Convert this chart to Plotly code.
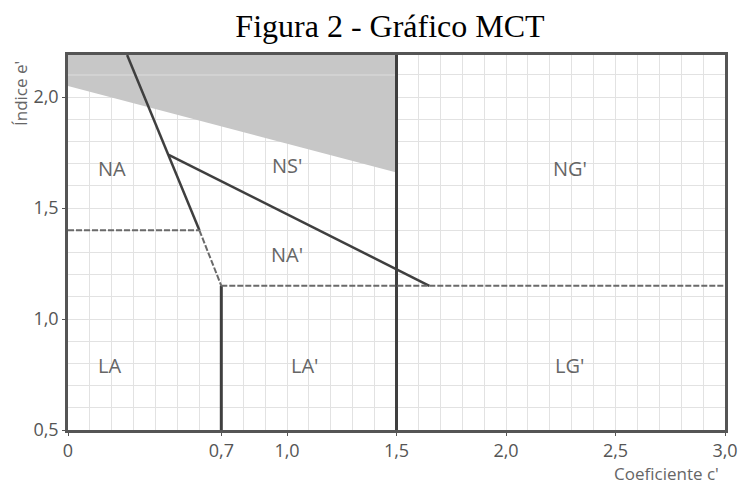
import plotly.graph_objects as go

# ---- data ----
x_tickvals = [0, 0.7, 1.0, 1.5, 2.0, 2.5, 3.0]
x_ticktext = ["0", "0,7", "1,0", "1,5", "2,0", "2,5", "3,0"]
y_tickvals = [0.5, 1.0, 1.5, 2.0]
y_ticktext = ["0,5", "1,0", "1,5", "2,0"]

x_range = [0, 3.0]
y_range = [0.5, 2.19]

shade_x = [0, 1.5, 1.5, 0, 0]
shade_y = [2.05, 1.66, 2.19, 2.19, 2.05]

steep_solid_x = [0.27, 0.6]
steep_solid_y = [2.19, 1.4]
steep_dash_x = [0.6, 0.7]
steep_dash_y = [1.4, 1.15]

na_line_x = [0.46, 1.65]
na_line_y = [1.74, 1.15]

v07_x = [0.7, 0.7]
v07_y = [0.5, 1.15]
v15_x = [1.5, 1.5]
v15_y = [0.5, 2.19]

h115_x = [0.7, 3.0]
h115_y = [1.15, 1.15]
h14_x = [0, 0.6]
h14_y = [1.4, 1.4]

band_x = [0, 1.5]
band_y = [2.1, 2.1]

region_labels = ["NA", "NS'", "NG'", "NA'", "LA", "LA'", "LG'"]
region_x = [0.2, 1.0, 2.29, 1.0, 0.19, 1.08, 2.29]
region_y = [1.68, 1.69, 1.68, 1.29, 0.79, 0.79, 0.79]

LINE = "#3f3f3f"
DASH = "#6a6a6a"

fig = go.Figure()
fig.add_trace(go.Scatter(x=shade_x, y=shade_y, mode="lines", fill="toself",
                         fillcolor="#c7c7c7", line=dict(width=0), hoverinfo="skip"))
fig.add_trace(go.Scatter(x=band_x, y=band_y, mode="lines",
                         line=dict(color="#d6d6d6", width=1.5), hoverinfo="skip"))
for xs, ys in [(steep_solid_x, steep_solid_y), (na_line_x, na_line_y)]:
    fig.add_trace(go.Scatter(x=xs, y=ys, mode="lines",
                             line=dict(color=LINE, width=2.5), hoverinfo="skip"))
for xs, ys in [(v07_x, v07_y), (v15_x, v15_y)]:
    fig.add_trace(go.Scatter(x=xs, y=ys, mode="lines",
                             line=dict(color=LINE, width=3), hoverinfo="skip"))
for xs, ys in [(steep_dash_x, steep_dash_y), (h115_x, h115_y), (h14_x, h14_y)]:
    fig.add_trace(go.Scatter(x=xs, y=ys, mode="lines",
                             line=dict(color=DASH, width=2, dash="6px,2px"), hoverinfo="skip"))

for t, x, y in zip(region_labels, region_x, region_y):
    fig.add_annotation(x=x, y=y, text=t, showarrow=False,
                       font=dict(family="Open Sans", size=20, color="#666666"))

fig.add_annotation(xref="paper", yref="paper", x=(20 - 68) / 657, y=(430 - 94) / 375,
                   xanchor="center", yanchor="middle", text="Índice e'",
                   textangle=-90, showarrow=False,
                   font=dict(family="Open Sans", size=17, color="#666666"))
fig.add_annotation(xref="paper", yref="paper", x=(721 - 68) / 657, y=(430 - 473) / 375,
                   xanchor="right", yanchor="middle", text="Coeficiente c'", showarrow=False,
                   font=dict(family="Open Sans", size=17, color="#666666"))

grid = "#e2e2e2"
axis_common = dict(showgrid=True, gridcolor=grid, gridwidth=1,
                   showline=True, linecolor="#555555", linewidth=2.5, mirror=True,
                   ticks="outside", ticklen=3, tickcolor="#555555",
                   tickfont=dict(family="Open Sans", size=18, color="#555555"),
                   zeroline=False, automargin=False)
fig.update_xaxes(range=x_range, tickvals=x_tickvals, ticktext=x_ticktext,
                 minor=dict(dtick=0.1, tick0=0, showgrid=True, gridcolor=grid, gridwidth=1),
                 **axis_common)
fig.update_yaxes(range=y_range, tickvals=y_tickvals, ticktext=y_ticktext,
                 minor=dict(dtick=0.1, tick0=0.5, showgrid=True, gridcolor=grid, gridwidth=1),
                 **axis_common)

fig.update_layout(
    width=745, height=485,
    margin=dict(l=68, r=20, t=55, b=55, autoexpand=False),
    paper_bgcolor="white", plot_bgcolor="white",
    showlegend=False,
    title=dict(text="Figura 2 - Gráfico MCT", x=390 / 745, xanchor="center",
               y=1 - 26 / 485, yanchor="middle", yref="container",
               font=dict(family="Liberation Serif", size=32, color="black")),
)

fig.write_html("out.html", config={"displayModeBar": False},
               post_script="document.body.style.margin='0';document.body.style.padding='0';")
